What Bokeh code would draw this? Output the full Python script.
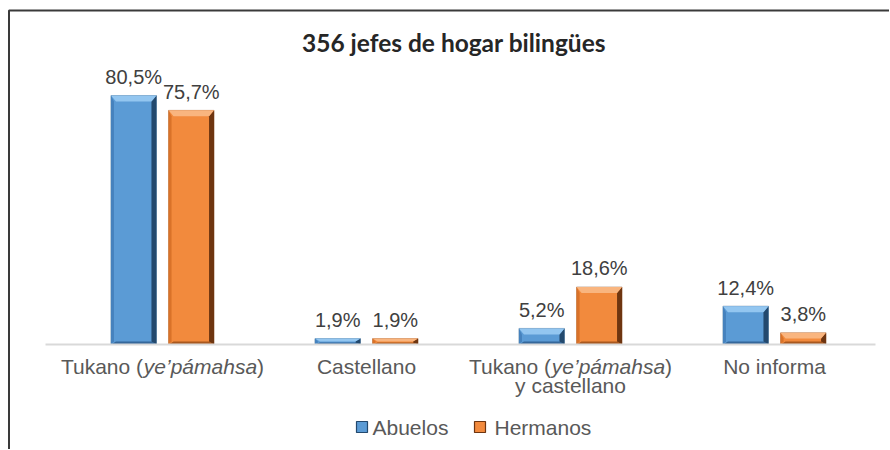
from bokeh.plotting import figure
from bokeh.models import Range1d, Label, ColumnDataSource
from bokeh.core.properties import value
from bokeh.embed import file_html
from bokeh.resources import INLINE

# ---------------- data ----------------
title_text = "356 jefes de hogar bilingües"
series_names = ["Abuelos", "Hermanos"]
# category labels: lines -> segments (text, italic)
categories = [
    [[("Tukano (", False), ("ye’pámahsa", True), (")", False)]],
    [[("Castellano", False)]],
    [[("Tukano (", False), ("ye’pámahsa", True), (")", False)], [("y castellano", False)]],
    [[("No informa", False)]],
]
abuelos = [80.5, 1.9, 5.2, 12.4]
hermanos = [75.7, 1.9, 18.6, 3.8]

# ---------------- layout ----------------
W, H = 889, 449
SX = 204.0          # px per category
SY = 3.093          # px per percent
X0PX = 162.0        # canvas x of first category centre
Y0PX = 344.0        # canvas y (from top) of baseline
TFIX = -9.5         # baseline correction for svg text
x_start = -X0PX / SX
x_end = x_start + W / SX
y_end = Y0PX / SY
y_start = -(H - Y0PX) / SY


def dx(px):
    return (px - X0PX) / SX


def dy(py):
    return (Y0PX - py) / SY


BAR_W = 45.5 / SX
OFF = 28.8 / SX

BLUE = dict(main="#5B9BD5", top="#93C6F0", right="#23496E", left="#4682BD", bottom="#35679A")
ORANGE = dict(main="#F28A3D", top="#F9B57F", right="#6E3510", left="#D97229", bottom="#A8581F")

p = figure(width=W, height=H, x_range=Range1d(x_start, x_end), y_range=Range1d(y_start, y_end),
           x_axis_type=None, y_axis_type=None, output_backend="svg", toolbar_location=None,
           min_border=0)
p.outline_line_color = None
p.background_fill_color = "white"
p.border_fill_color = "white"

for vals, off, col in [(abuelos, -OFF, BLUE), (hermanos, OFF, ORANGE)]:
    xs = [i + off for i in range(len(vals))]
    lefts = [x - BAR_W / 2 for x in xs]
    rights = [x + BAR_W / 2 for x in xs]
    src = ColumnDataSource(dict(left=lefts, right=rights, top=vals, bottom=[0] * len(vals)))
    p.quad(left="left", right="right", top="top", bottom="bottom", source=src,
           fill_color=col["main"], line_color=col["right"], line_width=0.6, line_alpha=0.6)
    # bevel faces
    bx = 5.0 / SX
    faces = {"top": ([], []), "right": ([], []), "left": ([], []), "bottom": ([], [])}
    for L, R, T in zip(lefts, rights, vals):
        by = min(6.0 / SY, T / 2.0)
        byb = min(3.0 / SY, T / 3.0)
        faces["top"][0].append([L, R, R - bx, L + bx]); faces["top"][1].append([T, T, T - by, T - by])
        faces["bottom"][0].append([L, R, R - bx, L + bx]); faces["bottom"][1].append([0, 0, byb, byb])
        faces["right"][0].append([R, R, R - bx, R - bx]); faces["right"][1].append([T, 0, byb, T - by])
        faces["left"][0].append([L, L + bx * 0.6, L + bx * 0.6, L]); faces["left"][1].append([T, T - by, byb, 0])
    for face in ["left", "bottom", "right", "top"]:
        fx, fy = faces[face]
        p.patches(fx, fy, fill_color=col[face], line_color=None)
    # value labels
    lab = [f"{v:.1f}".replace(".", ",") + "%" for v in vals]
    p.text(x=xs, y=vals, text=lab, text_align="center", text_baseline="alphabetic",
           y_offset=-9 + TFIX, text_font=value("Liberation Sans"), text_font_size="20px",
           text_color="#404040")

# axis line
p.segment(x0=[dx(45)], y0=[0], x1=[dx(875)], y1=[0], line_color="#D9D9D9", line_width=2)

# category labels (normal + italic segments)
AW = {"T": .611, "u": .556, "k": .5, "a": .556, "n": .556, "o": .556, " ": .278, "(": .333,
      ")": .333, "y": .5, "e": .556, "’": .222, "p": .556, "á": .556, "m": .833, "h": .556,
      "s": .5, "C": .722, "t": .278, "l": .222, "c": .5, "N": .722, "i": .222, "f": .278, "r": .333}
FS = 21
norm = dict(x=[], y=[], text=[], xo=[], yo=[])
ital = dict(x=[], y=[], text=[], xo=[], yo=[])
for i, lines in enumerate(categories):
    for li, segs in enumerate(lines):
        widths = [sum(AW.get(ch, .556) for ch in t) * FS for t, _ in segs]
        total = sum(widths)
        cur = -total / 2
        for (t, it), w in zip(segs, widths):
            d = ital if it else norm
            d["x"].append(i); d["y"].append(0); d["text"].append(t)
            d["xo"].append(cur); d["yo"].append(31 + TFIX + 19.5 * li)
            cur += w
for d, style in [(norm, "normal"), (ital, "italic")]:
    p.text(x="x", y="y", text="text", x_offset="xo", y_offset="yo", source=ColumnDataSource(d),
           text_align="left", text_baseline="alphabetic", text_font=value("Liberation Sans"),
           text_font_size=f"{FS}px", text_font_style=style, text_color="#595959")

# frame border (top and left)
xl = dx(8.5)
yt = dy(10)
p.line([xl, xl, x_end], [y_start, yt, yt], line_color="#3A3A3A", line_width=2)

# title
p.add_layout(Label(x=453.5, y=H - 51 - TFIX, x_units="screen", y_units="screen", text=title_text,
                   text_align="center", text_baseline="alphabetic", text_font="Lato",
                   text_font_style="bold", text_font_size="24.5px", text_color="#262626"))

# legend (manual)
leg_sq_x = [dx(361.5), dx(479.5)]
leg_txt_x = [dx(372), dx(494)]
for sx, tx, name, col in zip(leg_sq_x, leg_txt_x, series_names, [BLUE, ORANGE]):
    p.rect(x=[sx], y=[dy(426.5)], width=11, height=11, width_units="screen", height_units="screen",
           fill_color=col["main"], line_color=col["right"], line_width=1.2)
    p.text(x=[tx], y=[dy(436 + TFIX)], text=[name], text_align="left", text_baseline="alphabetic",
           text_font=value("Liberation Sans"), text_font_size="21px", text_color="#595959")

open("out.html", "w").write(file_html(p, INLINE))
